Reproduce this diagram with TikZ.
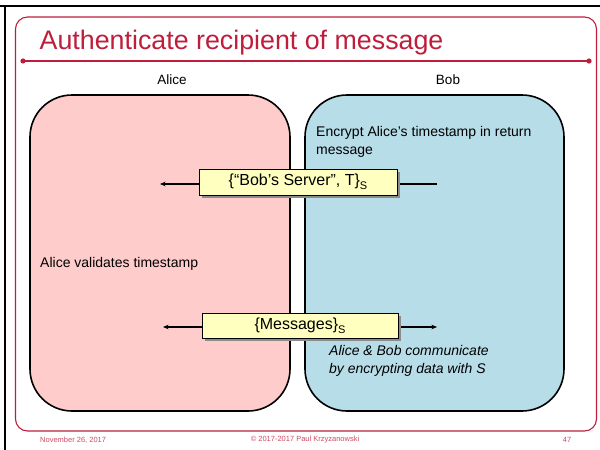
\documentclass[tikz,border=0pt]{standalone}
\usepackage{fontspec}
\setmainfont{Liberation Sans}
\usetikzlibrary{arrows.meta}

\definecolor{slidered}{RGB}{190,30,60}
\definecolor{alicepink}{RGB}{255,204,204}
\definecolor{bobblue}{RGB}{183,221,232}
\definecolor{msgyellow}{RGB}{255,255,192}

\newcommand{\subS}{\raisebox{-4pt}{\fontsize{11}{11}\selectfont S}}

\tikzset{
  party/.style={draw=black, line width=1.6pt, rounded corners=42pt},
  plain/.style={font=\fontsize{14}{18}\selectfont, inner sep=0pt, align=left},
  msgbox/.style={draw=black, line width=0.6pt, fill=msgyellow, inner sep=0pt,
                 font=\fontsize{16}{16}\selectfont},
  msgshadow/.style={fill=black!45, draw=none},
  flow/.style={line width=1.2pt, -{Stealth[length=5.5pt,width=4.5pt]}},
  footer/.style={text=slidered!80, font=\fontsize{7.5}{8}\selectfont, inner sep=0pt},
}

\begin{document}
\begin{tikzpicture}[x=1pt, y=-1pt]
\useasboundingbox (0,0) rectangle (600,450);

% outer black edge lines
\draw[line width=2pt] (0,6) -- (600,6);
\draw[line width=2pt] (5,5) -- (5,450);

% slide frame and title
\draw[slidered, line width=1.1pt, rounded corners=12pt] (15.5,17) rectangle (596.5,431);
\node[anchor=base west, inner sep=0pt, text=slidered, font=\fontsize{26.8}{27}\selectfont]
  (title) at (39.5,49.5) {Authenticate recipient of message};
\coordinate (ruleL) at (23,61);
\coordinate (ruleR) at (589,61);
\draw[slidered, line width=1.1pt] (ruleL) -- (ruleR);
\fill[slidered] (ruleL) circle (2.6pt) (ruleR) circle (2.6pt);

% the two parties
\node[font=\fontsize{13.5}{14}\selectfont] (aliceName) at (172,80) {Alice};
\node[font=\fontsize{13.5}{14}\selectfont] (bobName) at (448,80) {Bob};

\draw[party, fill=alicepink] (30,95) rectangle (290,411);
\draw[party, fill=bobblue] (305,95) rectangle (564,411);

\node[plain, anchor=west] (bobEnc) at (316,142)
  {Encrypt Alice’s timestamp in return\\message};
\node[plain, anchor=west] (aliceVal) at (40,264) {Alice validates timestamp};
\node[plain, anchor=west, font=\fontsize{14}{18}\selectfont\itshape] (comm) at (329,361)
  {Alice \& Bob communicate\\by encrypting data with S};

% first message: Bob to Alice
\coordinate (m1from) at (437,184);
\coordinate (m1to) at (160,184);
\draw[flow] (m1from) -- (m1to);
\fill[msgshadow] (202,172) rectangle (400,198);
\node[msgbox, minimum width=198pt, minimum height=26pt] (msg1) at (298,182)
  {\{“Bob’s Server”, T\}\subS};

% second message: both directions
\coordinate (m2mid) at (300,327);
\coordinate (m2left) at (163,327);
\coordinate (m2right) at (437,327);
\draw[flow] (m2mid) -- (m2left);
\draw[flow] (m2mid) -- (m2right);
\fill[msgshadow] (205,316) rectangle (401,341);
\node[msgbox, minimum width=196pt, minimum height=25pt] (msg2) at (300,325.5)
  {\{Messages\}\subS};

% footer
\node[footer, anchor=west] (date) at (40,440) {November 26, 2017};
\node[footer] (copy) at (305,440) {© 2017-2017 Paul Krzyzanowski};
\node[footer] (page) at (567,440) {47};
\end{tikzpicture}
\end{document}
